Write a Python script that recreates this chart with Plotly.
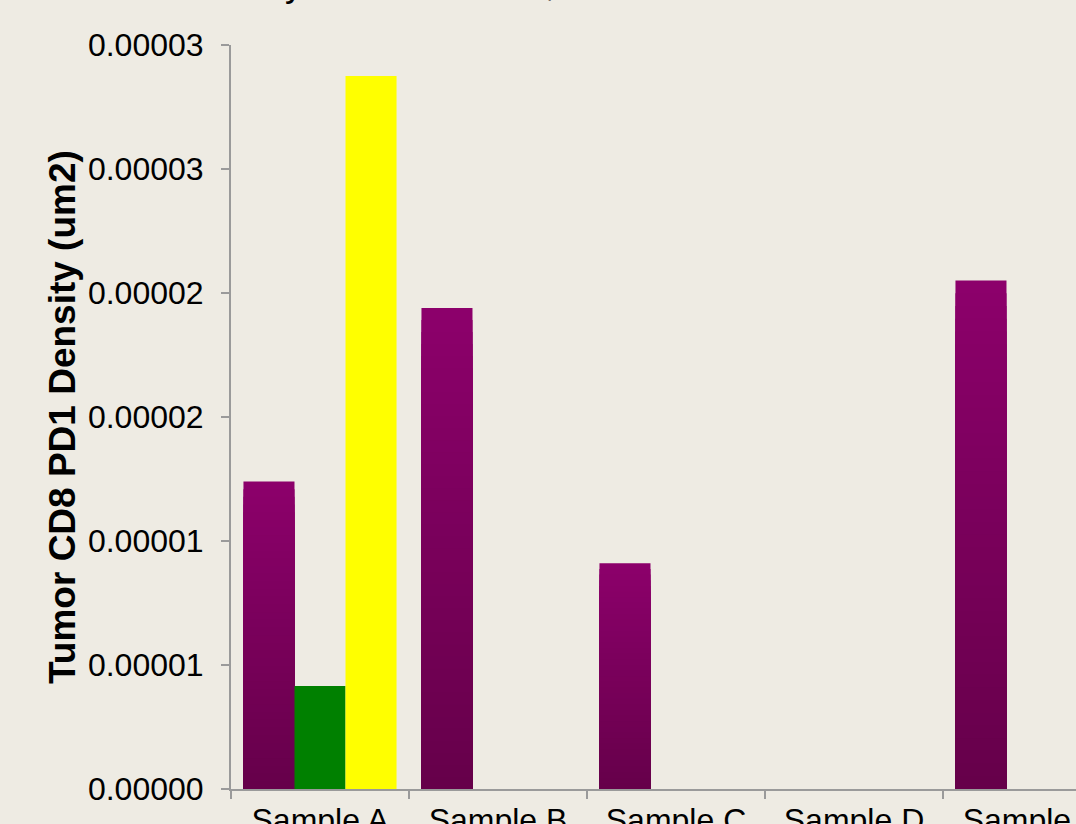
import plotly.graph_objects as go

# --- data -------------------------------------------------------------
categories = ["Sample A", "Sample B", "Sample C", "Sample D", "Sample E"]
cd8_pd1 = [1.24e-5, 1.94e-5, 9.1e-6, 0, 2.05e-5]          # purple series
series_green = [4.15e-6, None, None, None, None]
series_yellow = [2.875e-5, None, None, None, None]

y_tick_vals = [0, 0.000005, 0.00001, 0.000015, 0.00002, 0.000025, 0.00003]
y_tick_text = ["0.00000", "0.00001", "0.00001", "0.00002", "0.00002", "0.00003", "0.00003"]

# --- style ------------------------------------------------------------
BG = "#EEEBE3"
AXIS = "#9A9A9A"
FONT = "Liberation Sans, Arial, sans-serif"
PURPLE_TOP = (140, 0, 107)
PURPLE_BOTTOM = (102, 0, 74)
BANDS = 40  # vertical shading bands of the purple bars

fig = go.Figure()


def mix(a, b, t):
    return "rgb({},{},{})".format(*[round(a[i] + (b[i] - a[i]) * t) for i in range(3)])


# purple bars with a vertical shade: full-height light bar at the back,
# progressively shorter and darker bars drawn on top of it
for j in range(BANDS):
    frac = (BANDS - j) / BANDS
    t = (BANDS - j - 0.5) / BANDS  # 0 = bottom, 1 = top
    fig.add_trace(go.Bar(
        x=categories,
        y=[v * frac if v is not None else None for v in cd8_pd1],
        offsetgroup="s1",
        marker=dict(color=mix(PURPLE_BOTTOM, PURPLE_TOP, t), line=dict(width=0)),
        showlegend=False,
        hoverinfo="skip" if j else "x+y",
    ))

fig.add_trace(go.Bar(x=categories, y=series_green, offsetgroup="s2",
                     marker=dict(color="#008000", line=dict(width=0)), showlegend=False))
fig.add_trace(go.Bar(x=categories, y=series_yellow, offsetgroup="s3",
                     marker=dict(color="#FFFF00", line=dict(width=0)), showlegend=False))

# category slot is 178 px wide; the axis starts 231 px from the left edge
x_end = -0.5 + (1076 - 231) / 178

fig.update_layout(
    width=1076, height=824,
    paper_bgcolor=BG, plot_bgcolor=BG,
    margin=dict(l=231, r=0, t=45, b=35, autoexpand=False),
    barmode="group", bargap=0.14, bargroupgap=0,
    font=dict(family=FONT, color="#000000"),
    xaxis=dict(
        type="category", range=[-0.5, x_end], tickson="boundaries",
        ticks="outside", ticklen=8, tickwidth=2, tickcolor=AXIS,
        showline=True, linecolor=AXIS, linewidth=2,
        showgrid=False, zeroline=False, automargin=False,
        ticklabelstandoff=2,
        tickfont=dict(size=32, family=FONT, color="#000000"),
    ),
    yaxis=dict(
        range=[0, 0.00003], tickmode="array", tickvals=y_tick_vals, ticktext=y_tick_text,
        ticks="outside", ticklen=8, tickwidth=2, tickcolor=AXIS,
        showline=True, linecolor=AXIS, linewidth=2,
        showgrid=False, zeroline=False, automargin=False,
        ticklabelstandoff=11,
        tickfont=dict(size=32, family=FONT, color="#000000"),
    ),
    annotations=[
        dict(text="<b>Tumor CD8 PD1 Density (um2)</b>", textangle=-90,
             xref="paper", yref="paper", x=0, y=0.5, xshift=-169,
             xanchor="center", yanchor="middle", showarrow=False,
             font=dict(size=37, family=FONT, color="#000000")),
        dict(text="CD8 PD1 Density of Tumor Cells, All Cases",
             xref="paper", yref="paper", x=0, y=1, xshift=-212, yshift=39,
             xanchor="left", yanchor="bottom", showarrow=False,
             font=dict(size=36, family=FONT, color="#000000")),
    ],
)

fig.write_html("out.html")
